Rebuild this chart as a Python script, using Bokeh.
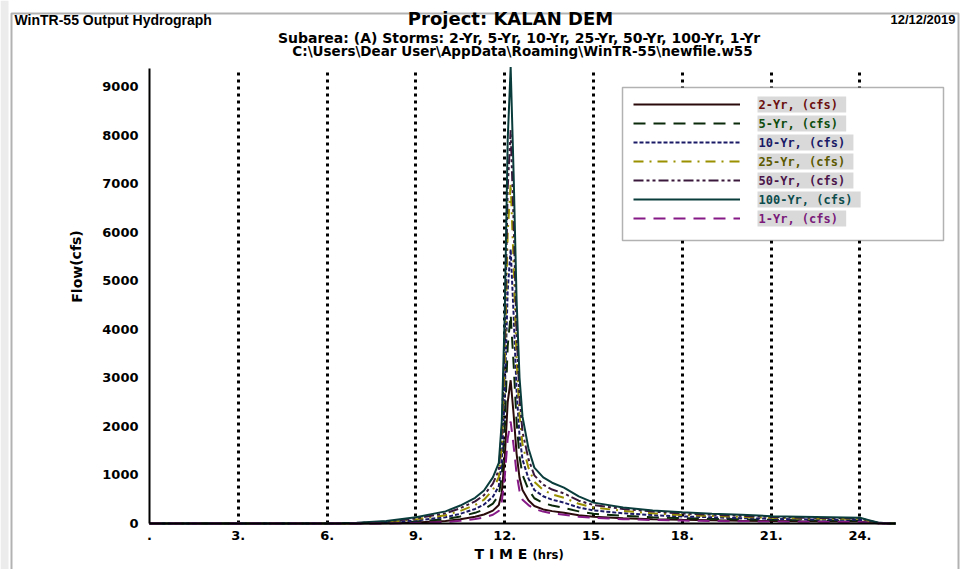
from bokeh.plotting import figure
from bokeh.models import Range1d, FixedTicker, Label, BoxAnnotation, Legend, LegendItem
from bokeh.embed import file_html
from bokeh.resources import INLINE

# ---------------- data ----------------
hours = [0, 6, 6.5, 7, 8, 9, 10, 10.5, 11, 11.3, 11.6, 11.8, 11.9, 12.0, 12.1, 12.2,
         12.3, 12.4, 12.5, 12.6, 12.8, 13.0, 13.3, 13.6, 14.0, 14.5, 15.0, 16.0, 17.0,
         18.0, 19.0, 20.0, 21.0, 22.0, 23.0, 24.0, 24.3, 24.6, 25.0, 25.2]

flow_2yr = [0, 0, 0, 0, 4, 20, 52, 88, 140, 185, 265, 380, 640, 1350, 2500, 2950,
            2250, 1440, 940, 690, 480, 360, 290, 255, 220, 172, 140, 110, 90,
            76, 67, 58, 51, 45, 42, 40, 20, 5, 0, 0]
flow_5yr = [0, 0, 0, 2, 10, 40, 90, 145, 220, 290, 410, 580, 980, 2000, 3650, 4300,
            3280, 2100, 1370, 1000, 700, 520, 420, 370, 320, 250, 200, 160, 130,
            110, 97, 85, 74, 66, 61, 58, 30, 8, 0, 0]
flow_10yr = [0, 0, 0, 4, 18, 62, 130, 200, 300, 390, 550, 770, 1300, 2650, 4800, 5650,
             4300, 2750, 1800, 1320, 930, 690, 560, 490, 430, 330, 270, 210, 172,
             145, 128, 110, 97, 86, 80, 77, 40, 10, 0, 0]
flow_25yr = [0, 0, 2, 7, 28, 85, 170, 260, 380, 490, 690, 960, 1620, 3250, 6000, 7000,
             5350, 3400, 2230, 1630, 1150, 860, 690, 600, 530, 405, 330, 260, 210,
             175, 155, 135, 118, 105, 98, 95, 50, 12, 0, 0]
flow_50yr = [0, 0, 3, 10, 38, 105, 210, 315, 455, 585, 820, 1100, 1900, 3800, 6900, 8100,
             6200, 3950, 2580, 1890, 1330, 990, 800, 700, 620, 470, 380, 300, 245,
             205, 180, 155, 135, 120, 112, 108, 60, 15, 0, 0]
flow_100yr = [0, 0, 5, 15, 50, 130, 250, 370, 530, 680, 950, 1250, 2100, 4300, 7900, 9400,
              7200, 4600, 3000, 2200, 1550, 1150, 950, 840, 740, 560, 430, 330, 270,
              230, 200, 180, 150, 140, 130, 120, 70, 20, 0, 0]
flow_1yr = [0, 0, 0, 0, 1, 10, 30, 55, 92, 125, 180, 260, 450, 960, 1750, 2100,
            1600, 1030, 670, 490, 380, 300, 245, 210, 180, 140, 115, 90, 72,
            60, 52, 46, 40, 36, 33, 30, 14, 3, 0, 0]

series_names = ["2-Yr,  (cfs)", "5-Yr,  (cfs)", "10-Yr,  (cfs)", "25-Yr,  (cfs)",
                "50-Yr,  (cfs)", "100-Yr,  (cfs)", "1-Yr,  (cfs)"]
series_values = [flow_2yr, flow_5yr, flow_10yr, flow_25yr, flow_50yr, flow_100yr, flow_1yr]

x_ticks = [0, 3, 6, 9, 12, 15, 18, 21, 24]
x_tick_labels = [".", "3.", "6.", "9.", "12.", "15.", "18.", "21.", "24."]
y_ticks = [0, 1000, 2000, 3000, 4000, 5000, 6000, 7000, 8000, 9000]
x_max = 25.2
y_max = 9370

title_left = "WinTR-55 Output Hydrograph"
title_main = "Project: KALAN DEM"
title_date = "12/12/2019"
subtitle = "Subarea: (A)  Storms: 2-Yr, 5-Yr, 10-Yr, 25-Yr, 50-Yr, 100-Yr, 1-Yr"
path_text = "C:\\Users\\Dear User\\AppData\\Roaming\\WinTR-55\\newfile.w55"

# ---------------- styles ----------------
line_colors = ["#2a0a0a", "#0a2a0a", "#1a1a66", "#9a9000", "#3a183c", "#0a3c3c", "#861a86"]
line_dashes = ["solid", "12 8", "4 2", "10 6 2 6", "10 3 3 3 3 3", "solid", "12 8"]
text_colors = ["#6b0f0f", "#0d4d0d", "#1a1a66", "#5c5a00", "#4b154b", "#0d4d4d", "#7a1a7a"]

W, H = 963, 569
# pixel positions of the data area inside the canvas
PL, PR, PT, PB = 149, 895, 68, 523
kx = (PR - PL) / x_max
ky = (PB - PT) / y_max

# the frame covers the whole canvas; ranges are widened so that the data area
# lands on the pixels above
p = figure(width=W, height=H, output_backend="svg", toolbar_location=None, title=None,
           x_range=Range1d(-PL / kx, (W - PL) / kx),
           y_range=Range1d(-(H - PB) / ky, PB / ky),
           min_border=0)
p.outline_line_color = None
p.background_fill_color = "white"
p.border_fill_color = "white"

# grid: dotted vertical lines only, within the data area
p.ygrid.grid_line_color = None
p.xgrid.ticker = FixedTicker(ticks=x_ticks[1:])
p.xgrid.grid_line_color = "black"
p.xgrid.grid_line_width = 3
p.xgrid.grid_line_dash = "3 4"
p.xgrid.cross_bounds = (0, y_max)

# axes drawn at fixed locations inside the frame
p.xaxis.ticker = FixedTicker(ticks=x_ticks)
p.xaxis.major_label_overrides = {t: s for t, s in zip(x_ticks, x_tick_labels)}
p.yaxis.ticker = FixedTicker(ticks=y_ticks)
p.xaxis.fixed_location = 0
p.yaxis.fixed_location = 0
p.xaxis.bounds = (0, x_max)
p.yaxis.bounds = (0, y_max)
for ax in (p.xaxis[0], p.yaxis[0]):
    ax.axis_line_color = "black"
    ax.axis_line_width = 2
    ax.major_tick_out = 0
    ax.major_tick_in = 0
    ax.minor_tick_out = 0
    ax.minor_tick_in = 0
    ax.major_label_text_font = "DejaVu Sans"
    ax.major_label_text_font_style = "bold"
    ax.major_label_text_font_size = "13px"
    ax.major_label_text_color = "black"
p.yaxis.major_label_standoff = 11
p.xaxis.major_label_standoff = 7

renderers = []
for name, vals, c, d in zip(series_names, series_values, line_colors, line_dashes):
    r = p.line(hours, vals, line_color=c, line_width=2, line_dash=d)
    renderers.append(r)


def sx(cx):
    return cx


def sy(cy):
    return H - cy


def lab(text, cx, cy, size, align="left", font="Liberation Sans", color="black",
        angle=0, bg=None):
    l = Label(x=sx(cx), y=sy(cy), x_units="screen", y_units="screen", text=text,
              text_font=font, text_font_style="bold", text_font_size=f"{size}px",
              text_align=align, text_baseline="middle", text_color=color, angle=angle)
    if bg is not None:
        l.background_fill_color = bg
        l.padding = 1
    p.add_layout(l)
    return l


def box(left, right, top, bottom, **kw):
    b = BoxAnnotation(left=sx(left), right=sx(right), top=sy(top), bottom=sy(bottom),
                      left_units="screen", right_units="screen", top_units="screen",
                      bottom_units="screen", **kw)
    p.add_layout(b)
    return b


# outer frame of the picture
box(0, 8, 0, H + 10, fill_color="#ececec", fill_alpha=1, line_color=None)
box(11, 958, 13, H + 10, fill_alpha=0, line_color="black", line_width=2)

# titles
lab(title_left, 14, 19, 14)
lab(title_main, 510, 18, 18, align="center", font="DejaVu Sans")
lab(title_date, 955, 19, 13, align="right")
lab(subtitle, 521, 37, 14, align="center", font="DejaVu Sans")
lab(path_text, 522, 50, 13.5, align="center", font="DejaVu Sans")
lab("Flow(cfs)", 76, 266, 14, align="center", font="DejaVu Sans", angle=1.5708)
lab("T I M E", 474, 553, 14, font="DejaVu Sans")
lab("(hrs)", 532, 554, 11.5, font="DejaVu Sans")

# legend box
box(622, 943, 87, 240, fill_color="white", fill_alpha=1, line_color="black", line_width=1.5)

row0, step = 104, 19
legend = Legend(items=[LegendItem(label=" ", renderers=[r]) for r in renderers],
                location=(sx(633), sy(row0 - 9 + step * 6 + 18)),
                glyph_width=107, glyph_height=18, label_height=18, label_width=10,
                spacing=step - 18, padding=0, margin=0, border_line_color=None,
                background_fill_alpha=0, label_standoff=0)
p.add_layout(legend)

for i, (name, tc) in enumerate(zip(series_names, text_colors)):
    lab(name, 757, row0 + i * step, 12, font="DejaVu Sans Mono", color=tc, bg="#d9d9d9")

open("out.html", "w").write(file_html(p, INLINE))
